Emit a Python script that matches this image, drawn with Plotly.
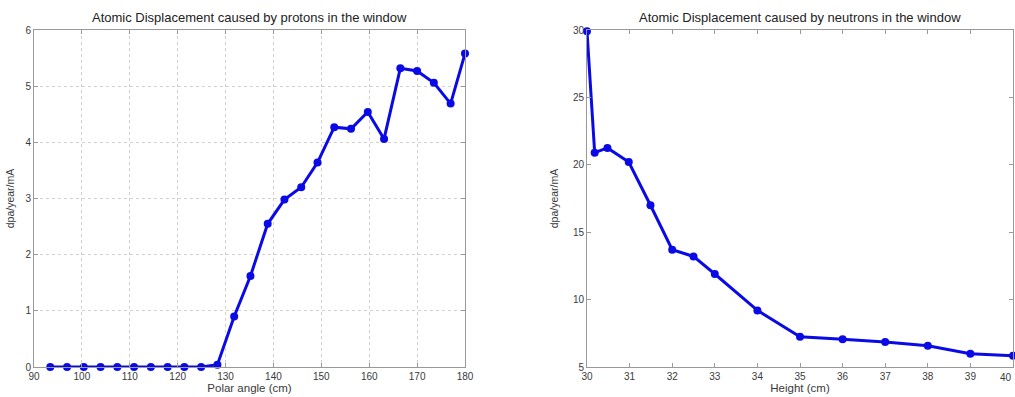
import plotly.graph_objects as go

# Left: protons
polar_angle = [93.4, 96.9, 100.4, 103.9, 107.4, 110.9, 114.4, 117.9, 121.4, 124.9,
               128.3, 131.8, 135.2, 138.8, 142.3, 145.8, 149.2, 152.7, 156.2, 159.7,
               163.1, 166.5, 170.0, 173.5, 177.0, 180.0]
dpa_protons = [0, 0, 0, 0, 0, 0, 0, 0, 0, 0,
               0.04, 0.90, 1.62, 2.55, 2.98, 3.20, 3.64, 4.27, 4.24, 4.54,
               4.06, 5.32, 5.27, 5.06, 4.69, 5.58]

# Right: neutrons
height = [30.0, 30.18, 30.48, 30.98, 31.49, 32.0, 32.5, 33.0, 34.0, 35.0, 36.0, 37.0, 38.0, 39.0, 40.0]
dpa_neutrons = [29.9, 20.9, 21.25, 20.2, 17.0, 13.7, 13.2, 11.9, 9.2, 7.25, 7.05, 6.85, 6.58, 5.98, 5.84]

W, H = 1015, 397
def px(x):
    return x / W
def py(y):
    return (H - y) / H

FAM = "Liberation Sans, Arial, sans-serif"
font = dict(family=FAM, size=10, color="#3a3a3a")
blue = "#0a0ae6"

fig = go.Figure()
fig.add_trace(go.Scatter(x=polar_angle, y=dpa_protons, mode="lines+markers",
                         line=dict(color=blue, width=3),
                         marker=dict(color=blue, size=8, symbol="circle"),
                         xaxis="x", yaxis="y", cliponaxis=False, showlegend=False))
fig.add_trace(go.Scatter(x=height, y=dpa_neutrons, mode="lines+markers",
                         line=dict(color=blue, width=3),
                         marker=dict(color=blue, size=8, symbol="circle"),
                         xaxis="x2", yaxis="y2", cliponaxis=False, showlegend=False))

axis_common = dict(showline=True, linecolor="#999999", linewidth=1, mirror="ticks",
                   ticks="inside", ticklen=4, tickcolor="#999999", zeroline=False,
                   tickfont=font, automargin=False)

fig.update_layout(
    width=W, height=H,
    margin=dict(l=0, r=0, t=0, b=0),
    paper_bgcolor="white", plot_bgcolor="white",
    font=font,
    xaxis=dict(domain=[px(34), px(465)], range=[90, 180], dtick=10,
               showgrid=True, gridcolor="#d0d0d0", griddash="dot", gridwidth=1,
               anchor="y",
               title=dict(text="Polar angle (cm)", font=dict(family=FAM, size=11.5, color="#3a3a3a"), standoff=1),
               **axis_common),
    yaxis=dict(domain=[py(367), py(30)], range=[0, 6], dtick=1,
               showgrid=True, gridcolor="#d0d0d0", griddash="dot", gridwidth=1,
               anchor="x",
               title=dict(text="dpa/year/mA", font=dict(family=FAM, size=10.5, color="#3a3a3a"), standoff=8),
               **axis_common),
    xaxis2=dict(domain=[px(587), px(1013)], range=[30, 40], dtick=1,
                showgrid=False, anchor="y2",
                title=dict(text="Height (cm)", font=dict(family=FAM, size=11.5, color="#3a3a3a"), standoff=1),
                **axis_common),
    yaxis2=dict(domain=[py(367), py(30)], range=[5, 30], dtick=5,
                showgrid=False, anchor="x2",
                title=dict(text="dpa/year/mA", font=dict(family=FAM, size=10.5, color="#3a3a3a"), standoff=12),
                **axis_common),
    annotations=[
        dict(text="Atomic Displacement caused by protons in the window", x=px(249), y=py(17),
             xref="paper", yref="paper", showarrow=False, xanchor="center", yanchor="middle",
             font=dict(family=FAM, size=13, color="#222222")),
        dict(text="Atomic Displacement caused by neutrons in the window", x=px(800), y=py(17),
             xref="paper", yref="paper", showarrow=False, xanchor="center", yanchor="middle",
             font=dict(family=FAM, size=13, color="#222222")),
        dict(text="40", x=40, y=py(377), xref="x2", yref="paper", showarrow=False,
             xanchor="right", yanchor="middle", xshift=1, font=font),
    ],
)

fig.write_html("out.html")
